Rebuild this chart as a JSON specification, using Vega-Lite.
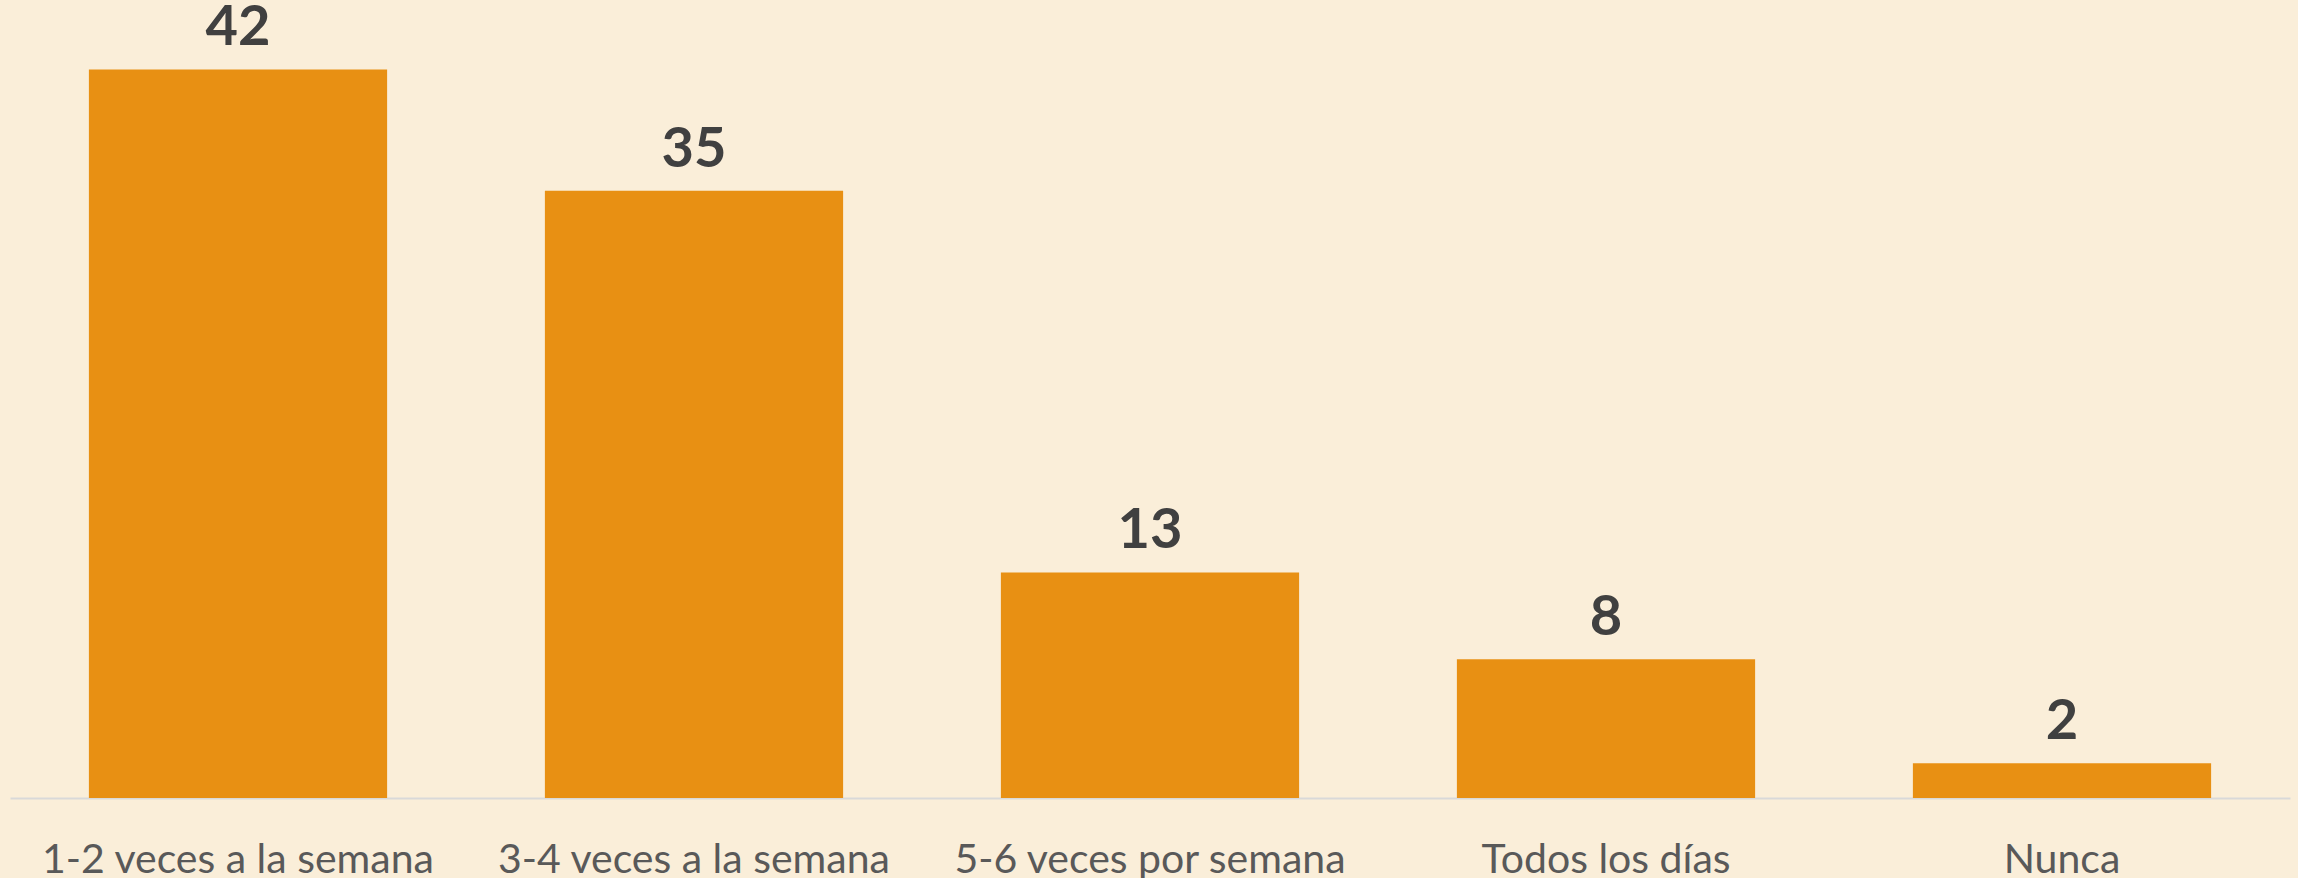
{
  "$schema": "https://vega.github.io/schema/vega-lite/v6.json",
  "width": 2280,
  "height": 798,
  "autosize": {"type": "none"},
  "padding": {"left": 10, "top": 0, "right": 8, "bottom": 80},
  "background": "#FAEED9",
  "config": {"view": {"stroke": null}},
  "data": {"values": [
    {"cat": "1-2 veces a la semana", "v": 42},
    {"cat": "3-4 veces a la semana", "v": 35},
    {"cat": "5-6 veces por semana", "v": 13},
    {"cat": "Todos los días", "v": 8},
    {"cat": "Nunca", "v": 2}
  ]},
  "encoding": {
    "x": {"field": "cat", "type": "nominal", "sort": null,
      "scale": {"paddingInner": 0.346, "paddingOuter": 0.173},
      "axis": {"title": null, "labelAngle": 0, "ticks": false, "tickSize": 0,
        "domainColor": "#D9D9D9", "domainWidth": 2, "labelLimit": 0,
        "labelFont": "Lato", "labelFontSize": 41, "labelColor": "#595959",
        "labelBaseline": "alphabetic", "labelPadding": 74}},
    "y": {"field": "v", "type": "quantitative",
      "scale": {"domain": [0, 46], "nice": false}, "axis": null}
  },
  "layer": [
    {"mark": {"type": "bar", "color": "#E89013"}},
    {"mark": {"type": "text", "baseline": "alphabetic", "dy": -24,
      "font": "Lato", "fontWeight": "bold", "fontSize": 56, "color": "#404040"},
     "encoding": {"text": {"field": "v", "type": "quantitative"}}}
  ]
}
